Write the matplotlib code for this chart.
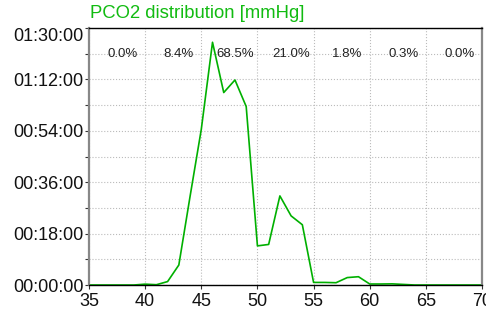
import numpy as np
import matplotlib
matplotlib.use("Agg")
import matplotlib.pyplot as plt
from matplotlib.ticker import FuncFormatter

plt.rcParams['font.family'] = ['Liberation Sans', 'DejaVu Sans']

# pCO2 in mmHg, time spent in minutes
pco2 = np.arange(35, 71)
minutes = [0, 0, 0, 0, 0,
           0.3, 0.1, 1.2, 7.0, 31.0,
           54.5, 85.0, 67.4, 71.8, 62.5,
           13.7, 14.2, 31.2, 24.2, 21.1,
           0.9, 0.9, 0.8, 2.6, 2.9,
           0.35, 0.35, 0.4, 0.2, 0,
           0, 0, 0, 0, 0, 0]
bin_centers = [38, 43, 48, 53, 58, 63, 68]
bin_labels = ['0.0%', '8.4%', '68.5%', '21.0%', '1.8%', '0.3%', '0.0%']

green = '#11bb11'

fig = plt.figure(figsize=(4.86, 3.15), dpi=100)
ax = fig.add_axes([89 / 486, 30 / 315, 393 / 486, 257 / 315])

ax.plot(pco2, minutes, color='#00b000', lw=1.2)

for xc, lab in zip(bin_centers, bin_labels):
    ax.text(xc, 81, lab, ha='center', va='center', fontsize=9.5, color='#222222')

ax.set_xlim(35, 70)
ax.set_ylim(0, 90)
ax.set_xticks(np.arange(35, 71, 5))
ax.set_yticks(np.arange(0, 91, 18))
ax.set_yticks(np.arange(9, 90, 18), minor=True)


def hms(v, pos):
    m = int(round(v))
    return '%02d:%02d:00' % (m // 60, m % 60)


ax.yaxis.set_major_formatter(FuncFormatter(hms))
ax.tick_params(axis='both', which='both', labelsize=13, length=3, width=0.8,
               pad=1, colors='#333333', labelcolor='#111111')
ax.tick_params(axis='x', pad=3)
ax.grid(True, which='both', axis='y', color='#bbbbbb', ls=':', lw=0.8)
ax.grid(True, which='major', axis='x', color='#bbbbbb', ls=':', lw=0.8)

for s in ['left', 'right']:
    ax.spines[s].set_color('#888888')
    ax.spines[s].set_linewidth(1.6)
for s in ['top', 'bottom']:
    ax.spines[s].set_color('black')
    ax.spines[s].set_linewidth(1.0)

# top label sits below its tick, inside the frame
top_tick = ax.yaxis.get_major_ticks()[-1]
top_tick.label1.set_verticalalignment('top')

fig.text(90 / 486, 1 - 14 / 315, 'PCO2 distribution [mmHg]', color=green,
         fontsize=13.3, ha='left', va='center')

fig.savefig('out.png', dpi=100)
